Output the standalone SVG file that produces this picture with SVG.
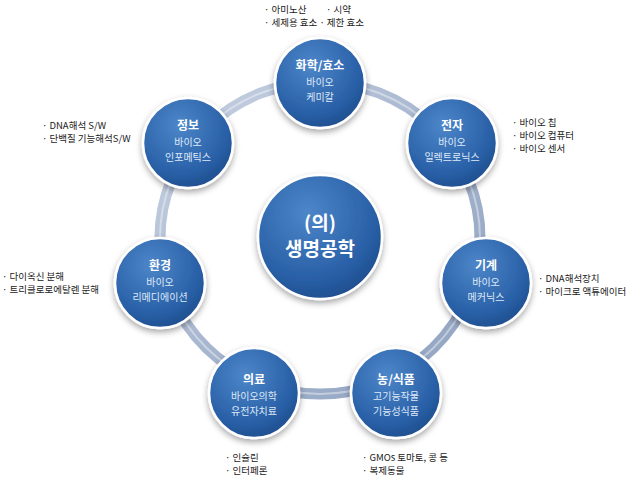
<svg xmlns="http://www.w3.org/2000/svg" width="640" height="480" viewBox="0 0 640 480">
<defs>
<radialGradient id="g" cx="0.4" cy="0.3" r="0.75">
<stop offset="0" stop-color="#4d86c9"/><stop offset="0.7" stop-color="#2a61a8"/><stop offset="1" stop-color="#1d4c8c"/>
</radialGradient>
<linearGradient id="ring" x1="0" y1="0" x2="1" y2="1">
<stop offset="0" stop-color="#c9d3e3"/><stop offset="0.5" stop-color="#a7b6cf"/><stop offset="1" stop-color="#8fa2c0"/>
</linearGradient>
<filter id="sh" x="-20%" y="-20%" width="140%" height="150%"><feDropShadow dx="0" dy="3" stdDeviation="3" flood-color="#000" flood-opacity="0.35"/></filter>
</defs>
<style>
text{font-family:"Noto Sans CJK KR","Noto Sans",sans-serif;}
.n{fill:url(#g);stroke:#fff;stroke-width:2.5;filter:url(#sh);}
.t{fill:#fff;font-size:12px;font-weight:bold;text-anchor:middle;}
.s{fill:#dfe9f7;font-size:10px;text-anchor:middle;}
.l{fill:#222;font-size:9.5px;}
</style>
<g id="connectors">
<ellipse cx="320" cy="238" rx="160" ry="156" fill="none" stroke="url(#ring)" stroke-width="11"/>
<ellipse cx="320" cy="238" rx="160" ry="156" fill="none" stroke="#ffffff" stroke-opacity="0.4" stroke-width="2"/>
</g>
<g id="center"><circle class="n" cx="320" cy="237" r="62"/>
<text class="t" x="320" y="230" style="font-size:19px">(의)</text>
<text class="t" x="320" y="256" style="font-size:19px">생명공학</text></g>
<g id="n1"><circle class="n" cx="320" cy="83" r="45"/><text class="t" x="320" y="70">화학/효소</text><text class="s" x="320" y="86">바이오</text><text class="s" x="320" y="101">케미칼</text></g>
<g id="n2"><circle class="n" cx="452" cy="143" r="45"/><text class="t" x="452" y="130">전자</text><text class="s" x="452" y="146">바이오</text><text class="s" x="452" y="161">일렉트로닉스</text></g>
<g id="n3"><circle class="n" cx="486" cy="283" r="45"/><text class="t" x="486" y="270">기계</text><text class="s" x="486" y="286">바이오</text><text class="s" x="486" y="301">메커닉스</text></g>
<g id="n4"><circle class="n" cx="396" cy="393" r="45"/><text class="t" x="396" y="384">농/식품</text><text class="s" x="396" y="400">고기능작물</text><text class="s" x="396" y="415">기능성식품</text></g>
<g id="n5"><circle class="n" cx="254" cy="393" r="45"/><text class="t" x="254" y="384">의료</text><text class="s" x="254" y="400">바이오의학</text><text class="s" x="254" y="415">유전자치료</text></g>
<g id="n6"><circle class="n" cx="160" cy="283" r="45"/><text class="t" x="160" y="270">환경</text><text class="s" x="160" y="286">바이오</text><text class="s" x="160" y="301">리메디에이션</text></g>
<g id="n7"><circle class="n" cx="188" cy="143" r="45"/><text class="t" x="188" y="130">정보</text><text class="s" x="188" y="146">바이오</text><text class="s" x="188" y="161">인포메틱스</text></g>
<g id="labels">
<text class="l" x="264" y="13">· 아미노산</text><text class="l" x="326" y="13">· 시약</text>
<text class="l" x="264" y="26">· 세제용 효소 · 제한 효소</text>
<text class="l" x="512" y="126">· 바이오 칩</text><text class="l" x="512" y="139">· 바이오 컴퓨터</text><text class="l" x="512" y="152">· 바이오 센서</text>
<text class="l" x="538" y="282">· DNA해석장치</text><text class="l" x="538" y="295">· 마이크로 액튜에이터</text>
<text class="l" x="362" y="461">· GMOs 토마토, 콩 등</text><text class="l" x="362" y="474">· 복제동물</text>
<text class="l" x="225" y="461">· 인슐린</text><text class="l" x="225" y="474">· 인터페론</text>
<text class="l" x="2" y="280">· 다이옥신 분해</text><text class="l" x="2" y="293">· 트리클로로에탈렌 분해</text>
<text class="l" x="42" y="129">· DNA해석 S/W</text><text class="l" x="42" y="142">· 단백질 기능해석S/W</text>
</g>
</svg>
